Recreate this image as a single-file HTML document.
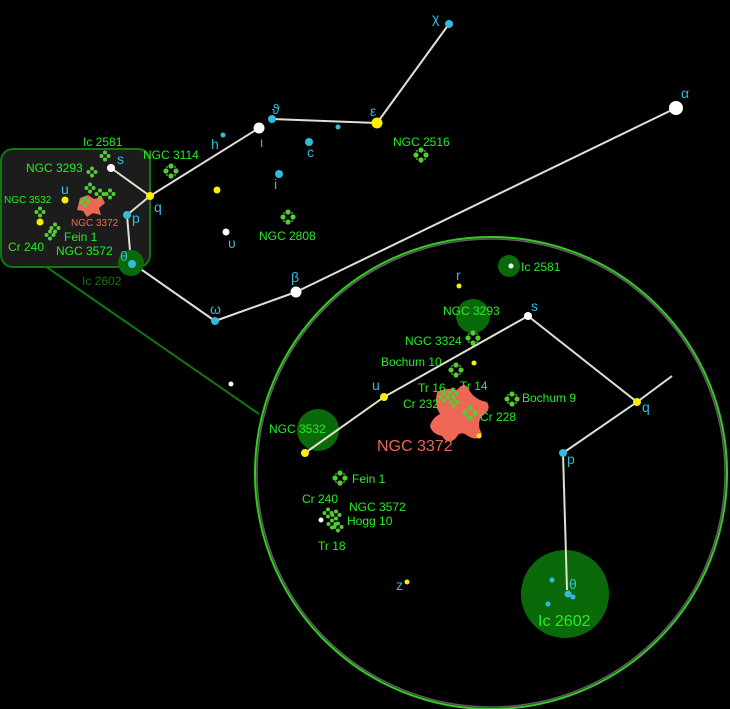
<!DOCTYPE html>
<html><head><meta charset="utf-8"><style>
html,body{margin:0;padding:0;background:#000;}
svg{display:block;}
text{font-family:"Liberation Sans","DejaVu Sans",sans-serif;}
.g{fill:#22ee22;font-size:12px;}
.c{fill:#33bbdd;font-size:14px;}
.ln{stroke:#e0e0d0;stroke-width:2;fill:none;}
</style></head><body>
<svg width="730" height="709" viewBox="0 0 730 709" xmlns="http://www.w3.org/2000/svg">
<defs>
<g id="cl"><circle cx="0" cy="-5" r="2.6" fill="#55cc33"/><circle cx="-5" cy="0" r="2.6" fill="#55cc33"/><circle cx="5" cy="0" r="2.6" fill="#55cc33"/><circle cx="0" cy="5" r="2.6" fill="#55cc33"/><circle cx="-4" cy="-4" r="0.9" fill="#55cc33"/><circle cx="4" cy="-4" r="0.9" fill="#55cc33"/><circle cx="-4" cy="4" r="0.9" fill="#55cc33"/><circle cx="4" cy="4" r="0.9" fill="#55cc33"/></g>
<g id="cs"><circle cx="0" cy="-3.5" r="2" fill="#55cc33"/><circle cx="-3.5" cy="0" r="2" fill="#55cc33"/><circle cx="3.5" cy="0" r="2" fill="#55cc33"/><circle cx="0" cy="3.5" r="2" fill="#55cc33"/></g>
</defs>
<rect width="730" height="709" fill="#000"/>

<!-- connector line from inset to circle -->
<line x1="45" y1="266" x2="259" y2="414" stroke="#117711" stroke-width="2"/>

<!-- main constellation lines -->
<line class="ln" x1="449" y1="24" x2="377" y2="123"/>
<line class="ln" x1="377" y1="123" x2="272" y2="119"/>
<line class="ln" x1="259" y1="128" x2="150" y2="196"/>
<line class="ln" x1="132" y1="263" x2="215" y2="321"/>
<line class="ln" x1="215" y1="321" x2="296" y2="292"/>
<line class="ln" x1="296" y1="292" x2="676" y2="108"/>

<!-- big circle -->
<circle cx="491" cy="473" r="236" fill="#000" stroke="#33cc22" stroke-width="2"/>
<circle cx="491" cy="473" r="234" fill="none" stroke="#888" stroke-width="1.5" opacity="0.7"/>

<!-- inset box -->
<rect x="1" y="149" width="149" height="118" rx="12" fill="#1c1c1c" stroke="#117711" stroke-width="2"/>
<line class="ln" x1="111" y1="168" x2="150" y2="196"/>
<line class="ln" x1="150" y1="196" x2="127" y2="215"/>
<line class="ln" x1="127" y1="215" x2="131" y2="263"/>
<circle cx="131" cy="263" r="13" fill="#0a6a0a"/>
<path d="M80,198 l8,-3 l6,4 l8,-2 l3,6 l-6,5 l2,7 l-8,-2 l-6,4 l-4,-6 l-6,-1 z" fill="#ee6655"/>
<use href="#cs" x="105" y="156"/>
<use href="#cs" x="92" y="172"/>
<use href="#cs" x="90" y="188"/>
<use href="#cs" x="100" y="194"/>
<use href="#cs" x="110" y="194"/>
<use href="#cs" x="85" y="202"/>
<use href="#cs" x="40" y="212"/>
<use href="#cs" x="55" y="228"/>
<use href="#cs" x="50" y="235"/>
<circle cx="111" cy="168" r="4" fill="#fff"/>
<circle cx="150" cy="196" r="4" fill="#ffee00"/>
<circle cx="127" cy="215" r="4" fill="#33bbdd"/>
<circle cx="132" cy="264" r="4" fill="#33bbdd"/>
<circle cx="65" cy="200" r="3.5" fill="#ffee00"/>
<circle cx="40" cy="222" r="3.5" fill="#ffee00"/>
<text class="g" x="83" y="146">Ic 2581</text>
<text class="g" x="26" y="172">NGC 3293</text>
<text class="g" x="4" y="203" style="font-size:10px">NGC 3532</text>
<text x="71" y="226" fill="#ee6655" style="font-size:10px">NGC 3372</text>
<text class="g" x="64" y="241">Fein 1</text>
<text class="g" x="8" y="251">Cr 240</text>
<text class="g" x="56" y="255">NGC 3572</text>
<text class="c" x="117" y="164">s</text>
<text class="c" x="61" y="194">u</text>
<text class="c" x="154" y="212">q</text>
<text class="c" x="132" y="223">p</text>
<text class="c" x="120" y="261">θ</text>
<text x="82" y="285" fill="#117711" style="font-size:12px">Ic 2602</text>

<!-- outside stars -->
<circle cx="449" cy="24" r="4" fill="#33bbdd"/>
<circle cx="377" cy="123" r="5.5" fill="#ffee00"/>
<circle cx="272" cy="119" r="4" fill="#33bbdd"/>
<circle cx="259" cy="128" r="5.5" fill="#fff"/>
<circle cx="223" cy="135" r="2.5" fill="#33bbdd"/>
<circle cx="309" cy="142" r="4" fill="#33bbdd"/>
<circle cx="338" cy="127" r="2.5" fill="#33bbdd"/>
<circle cx="279" cy="174" r="4" fill="#33bbdd"/>
<circle cx="217" cy="190" r="3.5" fill="#ffee00"/>
<circle cx="226" cy="232" r="3.5" fill="#fff"/>
<circle cx="231" cy="384" r="2.5" fill="#fff"/>
<circle cx="215" cy="321" r="4" fill="#33bbdd"/>
<circle cx="296" cy="292" r="5.5" fill="#fff"/>
<circle cx="676" cy="108" r="7" fill="#fff"/>
<use href="#cl" x="421" y="155"/>
<use href="#cl" x="171" y="171"/>
<use href="#cl" x="288" y="217"/>
<text class="c" x="432" y="23">χ</text>
<text class="c" x="370" y="116">ε</text>
<text class="c" x="272" y="114">ϑ</text>
<text class="c" x="260" y="147">ι</text>
<text class="c" x="211" y="149">h</text>
<text class="c" x="307" y="157">c</text>
<text class="c" x="274" y="189">i</text>
<text class="c" x="228" y="248">υ</text>
<text class="c" x="210" y="314">ω</text>
<text class="c" x="291" y="282">β</text>
<text class="c" x="681" y="98">α</text>
<text class="g" x="393" y="146">NGC 2516</text>
<text class="g" x="143" y="159">NGC 3114</text>
<text class="g" x="259" y="240">NGC 2808</text>

<!-- inside circle -->
<circle cx="509" cy="266" r="11" fill="#0a6a0a"/>
<circle cx="511" cy="266" r="2.5" fill="#fff"/>
<circle cx="473" cy="316" r="17" fill="#0a6a0a"/>
<circle cx="318" cy="430" r="21" fill="#0a6a0a"/>
<circle cx="565" cy="594" r="44" fill="#0a6a0a"/>
<line class="ln" x1="528" y1="316" x2="384" y2="397"/>
<line class="ln" x1="384" y1="397" x2="305" y2="453"/>
<line class="ln" x1="528" y1="316" x2="637" y2="402"/>
<line class="ln" x1="637" y1="402" x2="672" y2="376"/>
<line class="ln" x1="637" y1="402" x2="563" y2="453"/>
<line class="ln" x1="563" y1="453" x2="567" y2="590"/>
<path d="M437,392 q10,-5 20,-2 q8,-10 12,0 q6,10 18,12 q5,8 -5,14 q-6,8 0,18 q-4,8 -14,2 q-8,-6 -12,2 q-8,8 -14,-2 q-10,-2 -12,-10 q2,-8 10,-12 q-6,-8 -3,-22 z" fill="#ee6655"/>
<use href="#cl" x="473" y="338"/>
<use href="#cl" x="456" y="370"/>
<use href="#cs" x="453" y="393"/>
<use href="#cs" x="444" y="397"/>
<use href="#cs" x="454" y="402"/>
<use href="#cl" x="470" y="413"/>
<use href="#cl" x="512" y="399"/>
<use href="#cl" x="340" y="478"/>
<use href="#cs" x="328" y="513"/>
<use href="#cs" x="336" y="515"/>
<use href="#cs" x="332" y="524"/>
<use href="#cs" x="338" y="527"/>
<circle cx="528" cy="316" r="4" fill="#fff"/>
<circle cx="384" cy="397" r="4" fill="#ffee00"/>
<circle cx="305" cy="453" r="4" fill="#ffee00"/>
<circle cx="637" cy="402" r="4" fill="#ffee00"/>
<circle cx="563" cy="453" r="4" fill="#33bbdd"/>
<circle cx="568" cy="594" r="3.5" fill="#33bbdd"/>
<circle cx="573" cy="597" r="2.5" fill="#33bbdd"/>
<circle cx="552" cy="580" r="2.5" fill="#33bbdd"/>
<circle cx="548" cy="604" r="2.5" fill="#33bbdd"/>
<circle cx="459" cy="286" r="2.5" fill="#ffee00"/>
<circle cx="474" cy="363" r="2.5" fill="#ffee00"/>
<circle cx="479" cy="436" r="2.5" fill="#ffee00"/>
<circle cx="407" cy="582" r="2.5" fill="#ffee00"/>
<circle cx="321" cy="520" r="2.5" fill="#fff"/>
<text class="c" x="456" y="280">r</text>
<text class="c" x="531" y="311">s</text>
<text class="c" x="372" y="390">u</text>
<text class="c" x="642" y="412">q</text>
<text class="c" x="567" y="464">p</text>
<text class="c" x="569" y="589">θ</text>
<text class="c" x="396" y="590">z</text>
<text class="g" x="521" y="271">Ic 2581</text>
<text class="g" x="443" y="315">NGC 3293</text>
<text class="g" x="405" y="345">NGC 3324</text>
<text class="g" x="381" y="366">Bochum 10</text>
<text class="g" x="418" y="392">Tr 16</text>
<text class="g" x="460" y="390">Tr 14</text>
<text class="g" x="403" y="408">Cr 232</text>
<text class="g" x="480" y="421">Cr 228</text>
<text class="g" x="522" y="402">Bochum 9</text>
<text class="g" x="269" y="433">NGC 3532</text>
<text x="377" y="451" fill="#ee6655" style="font-size:16px">NGC 3372</text>
<text class="g" x="352" y="483">Fein 1</text>
<text class="g" x="302" y="503">Cr 240</text>
<text class="g" x="349" y="511">NGC 3572</text>
<text class="g" x="347" y="525">Hogg 10</text>
<text class="g" x="318" y="550">Tr 18</text>
<text class="g" x="538" y="626" style="font-size:16px">Ic 2602</text>
</svg>
</body></html>
